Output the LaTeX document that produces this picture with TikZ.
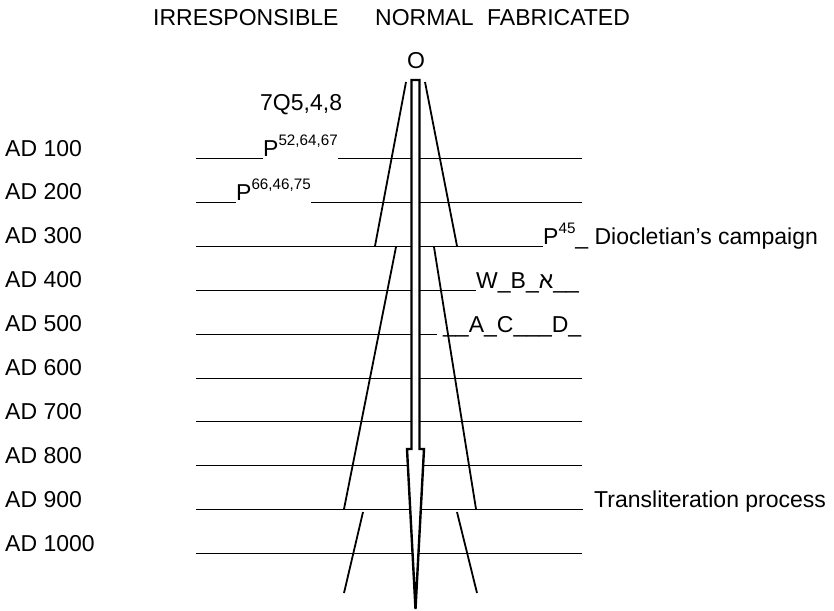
\documentclass[tikz,border=0pt]{standalone}
\usepackage{fontspec}
\setmainfont{Liberation Sans}
\newfontfamily\hebfont[Script=Hebrew]{Liberation Sans}
\TeXXeTstate=1
\usetikzlibrary{positioning}
\newcommand{\upidx}[1]{\raisebox{0.47em}{\fontsize{15.2}{15.2}\selectfont #1}}

\begin{document}
\begin{tikzpicture}[
    x=1pt, y=-1pt,
    txt/.style={inner sep=0pt, anchor=base west, font=\fontsize{23}{27}\selectfont},
    rule/.style={line width=0.9pt},
    funnel/.style={line width=1.8pt},
    shaft/.style={line width=2.4pt, fill=white, line join=miter}
]
\useasboundingbox (0,0) rectangle (834,610);

\node[txt] (irr) at (153,26) {IRRESPONSIBLE};
\node[txt] (norm) at (375,26) {NORMAL};
\node[txt] (fab) at (487,26) {FABRICATED};
\node[txt] (orig) at (407,68) {O};
\node[txt] (qum) at (260,110) {7Q5,4,8};

\foreach \t [count=\i from 0] in {100,200,...,1000} {
  \node[txt] (ad\t) at (5,156+43.9*\i) {AD \t};
}

\node[txt] (p1) at (263,156) {P\upidx{52,64,67}};
\node[txt] (p2) at (236,200) {P\upidx{66,46,75}};
\node[txt] (p45) at (543,244) {P\upidx{45}\_ Diocletian’s campaign};
\node[txt] (wb) at (476,288) {W\_B\_{\hebfont\beginR א\endR}\_\_};
\node[txt] (ac) at (443,332) {\_\_A\_C\_\_\_D\_};
\node[txt] (trans) at (594,507) {Transliteration process};

\draw[rule] (196,158) -- ([yshift=-2pt]p1.base west);
\draw[rule] ([yshift=-2pt]p1.base east) -- (582,158);
\draw[rule] (196,202) -- ([yshift=-2pt]p2.base west);
\draw[rule] ([yshift=-2pt]p2.base east) -- (582,202);
\draw[rule] (196,246) -- ([yshift=-2pt]p45.base west);
\draw[rule] (196,290) -- ([yshift=-2pt]wb.base west);
\draw[rule] (196,334) -- (437,334);
\foreach \y in {378,421.5,465,553} {
  \draw[rule] (196,\y) -- (582,\y);
}
\draw[rule] (196,509) -- (583,509);

\draw[funnel] (406,82) -- (375,246);
\draw[funnel] (425,82) -- (457,246);
\draw[funnel] (396,247) -- (344,509);
\draw[funnel] (434,247) -- (476,509);
\draw[funnel] (363,512) -- (344,593);
\draw[funnel] (457,512) -- (477,593);

\draw[shaft] (411.5,80) -- (411.5,449) -- (407,449) -- (415.5,609) -- (424,449) -- (419.5,449) -- (419.5,80) -- cycle;

\end{tikzpicture}
\end{document}
